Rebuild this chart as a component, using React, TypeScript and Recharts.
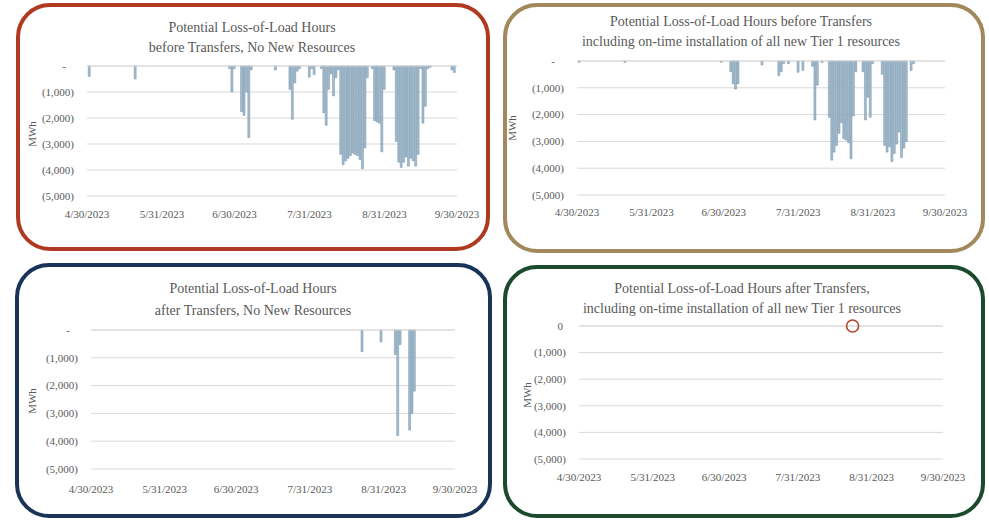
import React from 'react';
import { BarChart, Bar, XAxis, YAxis, CartesianGrid, ReferenceDot } from 'recharts';

// Period shown on every panel: 4/30/2023 .. 9/30/2023, x values are days after 4/30/2023
const PERIOD_START = Date.UTC(2023, 3, 30);
const PERIOD_DAYS = 153;
const monthTicks = [0, 31, 61, 92, 123, 153];
const mwhTicks = [0, -1000, -2000, -3000, -4000, -5000];

// Before transfers, no new resources (MWh short per day)
const beforeNoNewDays = [
  1, 20, 59, 60, 61, 64, 65, 66, 67, 68, 78, 84, 85, 86, 87, 88, 92, 93, 94,
  97, 98, 99, 100, 101, 102, 103, 104, 105, 106, 107, 108, 109, 110, 111, 112, 113, 114, 115, 116,
  118, 119, 120, 121, 122, 123, 127, 128, 129, 130, 131, 132, 133, 134, 135, 136, 137, 138, 139,
  140, 141, 142, 151, 152,
];
const beforeNoNewMwh = [
  -400, -500, -100, -1000, -100, -1750, -1900, -1000, -2750, -150, -150, -900, -2050, -650, -200, -100, -430, -100, -330,
  -100, -1800, -2280, -900, -300, -1150, -450, -150, -3400, -3800, -3650, -3550, -3450, -3350, -3400, -3450, -3600, -3950, -3150, -450,
  -100, -2100, -2150, -2200, -3300, -900, -150, -2900, -3700, -3900, -3700, -3500, -3850, -3550, -3650, -3850, -3400, -100, -2200,
  -1550, -100, -50, -150, -250,
];

// Before transfers, with on-time Tier 1 resources
const beforeTier1Days = [
  1, 20, 60, 64, 65, 66, 67, 77, 84, 85, 86, 88, 92, 94, 98, 99, 100, 102,
  105, 106, 107, 108, 109, 110, 111, 112, 113, 114, 115, 116,
  119, 120, 121, 122, 123, 127, 128, 129, 130, 131, 132, 133, 134, 135, 136, 137, 139, 140,
];
const beforeTier1Mwh = [
  -50, -50, -50, -400, -850, -1050, -850, -150, -550, -400, -100, -100, -420, -350, -200, -2200, -900, -60,
  -2100, -3700, -3400, -3150, -2700, -2300, -2900, -2950, -3050, -3650, -2050, -400,
  -400, -2200, -1350, -2100, -100, -500, -3150, -3400, -3200, -3750, -3450, -3100, -2650, -3600, -3250, -3000, -350, -100,
];

// After transfers, no new resources
const afterNoNewDays = [114, 122, 128, 129, 130, 134, 135, 136];
const afterNoNewMwh = [-780, -430, -880, -3800, -520, -3600, -3000, -2200];

// After transfers, with on-time Tier 1 resources: no shortfall; one flagged day
const afterTier1Days = [115];
const afterTier1Mwh = [0];
const afterTier1FlagDay = 115;

const TEXT = '#595959';
const GRID = '#d9d9d9';
const FONT = "'Liberation Serif', 'Times New Roman', serif";
const BAR_FILL = '#a3bccd';
const BAR_EDGE = '#7492aa';

const rowsOf = (days: number[], values: number[]) => days.map((day, i) => ({ day, mwh: values[i] }));

const dayLabel = (d: number) => {
  const dt = new Date(PERIOD_START + d * 86400000);
  return `${dt.getUTCMonth() + 1}/${dt.getUTCDate()}/${dt.getUTCFullYear()}`;
};

type Box = { left: number; top: number; width: number; height: number };
type Plot = { left: number; top: number; right: number; bottom: number };

type PanelCfg = {
  key: string;
  border: string;
  frame: Box;
  plot: Plot;
  title: string[];
  titleX: number;
  titleTop: number;
  titleLine: number;
  unitX: number;
  unitY: number;
  zeroText: string;
  zeroShift: number;
  xTickGap: number;
  rows: { day: number; mwh: number }[];
  flagDay?: number;
};

const panels: PanelCfg[] = [
  {
    key: 'before-no-new',
    border: '#b03a21',
    frame: { left: 16, top: 3, width: 474, height: 248 },
    plot: { left: 87, top: 66, right: 457, bottom: 196 },
    title: ['Potential Loss-of-Load Hours', 'before Transfers, No New Resources'],
    titleX: 252,
    titleTop: 18,
    titleLine: 20,
    unitX: 32,
    unitY: 134,
    zeroText: '-',
    zeroShift: 8,
    xTickGap: 14,
    rows: rowsOf(beforeNoNewDays, beforeNoNewMwh),
  },
  {
    key: 'before-tier1',
    border: '#a2895b',
    frame: { left: 503, top: 3, width: 482, height: 250 },
    plot: { left: 577, top: 61, right: 945, bottom: 195 },
    title: ['Potential Loss-of-Load Hours before Transfers', 'including on-time installation of all new Tier 1 resources'],
    titleX: 741,
    titleTop: 12,
    titleLine: 20,
    unitX: 512,
    unitY: 128,
    zeroText: '-',
    zeroShift: 9,
    xTickGap: 13,
    rows: rowsOf(beforeTier1Days, beforeTier1Mwh),
  },
  {
    key: 'after-no-new',
    border: '#1a3457',
    frame: { left: 15, top: 263, width: 477, height: 255 },
    plot: { left: 91, top: 330, right: 455, bottom: 469 },
    title: ['Potential Loss-of-Load Hours', 'after Transfers, No New Resources'],
    titleX: 253,
    titleTop: 278,
    titleLine: 21.6,
    unitX: 32,
    unitY: 401,
    zeroText: '-',
    zeroShift: 8,
    xTickGap: 16,
    rows: rowsOf(afterNoNewDays, afterNoNewMwh),
  },
  {
    key: 'after-tier1',
    border: '#1c4b2c',
    frame: { left: 503, top: 265, width: 482, height: 253 },
    plot: { left: 579, top: 326, right: 943, bottom: 459 },
    title: ['Potential Loss-of-Load Hours after Transfers,', 'including on-time installation of all new Tier 1 resources'],
    titleX: 742,
    titleTop: 279,
    titleLine: 20,
    unitX: 527,
    unitY: 395,
    zeroText: '0',
    zeroShift: 3,
    xTickGap: 14,
    rows: rowsOf(afterTier1Days, afterTier1Mwh),
    flagDay: afterTier1FlagDay,
  },
];

const Y_AXIS_W = 50;
const X_AXIS_H = 30;

function LolhPanel({ cfg }: { cfg: PanelCfg }) {
  const { frame, plot } = cfg;
  const margin = {
    top: plot.top - frame.top,
    left: plot.left - frame.left - Y_AXIS_W,
    right: frame.left + frame.width - plot.right,
    bottom: frame.top + frame.height - plot.bottom - X_AXIS_H,
  };

  const renderYTick = (props: any) => {
    const { x, y, payload } = props;
    const v = payload.value as number;
    const label = v === 0 ? cfg.zeroText : `(${Math.abs(v).toLocaleString('en-US')})`;
    return (
      <text
        x={x - (v === 0 ? cfg.zeroShift : 0)}
        y={y}
        dy="0.35em"
        textAnchor="end"
        fontSize={11}
        fill={TEXT}
        fontFamily={FONT}
      >
        {label}
      </text>
    );
  };

  return (
    <>
      <div
        style={{
          position: 'absolute',
          left: frame.left,
          top: frame.top,
          width: frame.width,
          height: frame.height,
          border: `4px solid ${cfg.border}`,
          borderRadius: 34,
          boxSizing: 'border-box',
        }}
      />
      <div
        style={{
          position: 'absolute',
          left: cfg.titleX - 250,
          top: cfg.titleTop,
          width: 500,
          textAlign: 'center',
          fontSize: 14,
          lineHeight: `${cfg.titleLine}px`,
          color: TEXT,
          whiteSpace: 'nowrap',
          fontFamily: FONT,
        }}
      >
        {cfg.title.map((t) => (
          <div key={t}>{t}</div>
        ))}
      </div>
      <div
        style={{
          position: 'absolute',
          left: cfg.unitX - 20,
          top: cfg.unitY - 7,
          width: 40,
          height: 14,
          lineHeight: '14px',
          fontSize: 11,
          textAlign: 'center',
          transform: 'rotate(-90deg)',
          color: TEXT,
          fontFamily: FONT,
        }}
      >
        MWh
      </div>
      <div style={{ position: 'absolute', left: frame.left, top: frame.top }}>
        <BarChart width={frame.width} height={frame.height} data={cfg.rows} margin={margin}>
          <CartesianGrid horizontal vertical={false} stroke={GRID} strokeWidth={1} />
          <XAxis
            dataKey="day"
            type="number"
            domain={[0, PERIOD_DAYS]}
            ticks={monthTicks}
            interval={0}
            tickFormatter={dayLabel}
            axisLine={false}
            tickLine={false}
            tickSize={0}
            tickMargin={cfg.xTickGap}
            height={X_AXIS_H}
            tick={{ fontSize: 11, fill: TEXT, fontFamily: FONT }}
          />
          <XAxis
            xAxisId="zero"
            dataKey="day"
            orientation="top"
            mirror
            type="number"
            domain={[0, PERIOD_DAYS]}
            ticks={monthTicks}
            interval={0}
            tick={false}
            tickLine={{ stroke: GRID }}
            axisLine={{ stroke: GRID }}
            tickSize={4}
          />
          <YAxis
            type="number"
            domain={[-5000, 0]}
            ticks={mwhTicks}
            interval={0}
            width={Y_AXIS_W}
            axisLine={false}
            tickLine={false}
            tickSize={0}
            tickMargin={13}
            tick={renderYTick}
          />
          <Bar
            dataKey="mwh"
            barSize={2}
            fill={BAR_FILL}
            stroke={BAR_EDGE}
            strokeWidth={0.5}
            isAnimationActive={false}
          />
          {cfg.flagDay !== undefined && (
            <ReferenceDot
              x={cfg.flagDay}
              y={0}
              r={6}
              fill="none"
              stroke="#b5432b"
              strokeWidth={1.6}
              ifOverflow="visible"
            />
          )}
        </BarChart>
      </div>
    </>
  );
}

export default function App() {
  return (
    <div
      style={{
        position: 'absolute',
        left: 0,
        top: 0,
        width: 989,
        height: 520,
        background: '#ffffff',
        overflow: 'hidden',
        fontFamily: FONT,
      }}
    >
      {panels.map((p) => (
        <LolhPanel key={p.key} cfg={p} />
      ))}
    </div>
  );
}
